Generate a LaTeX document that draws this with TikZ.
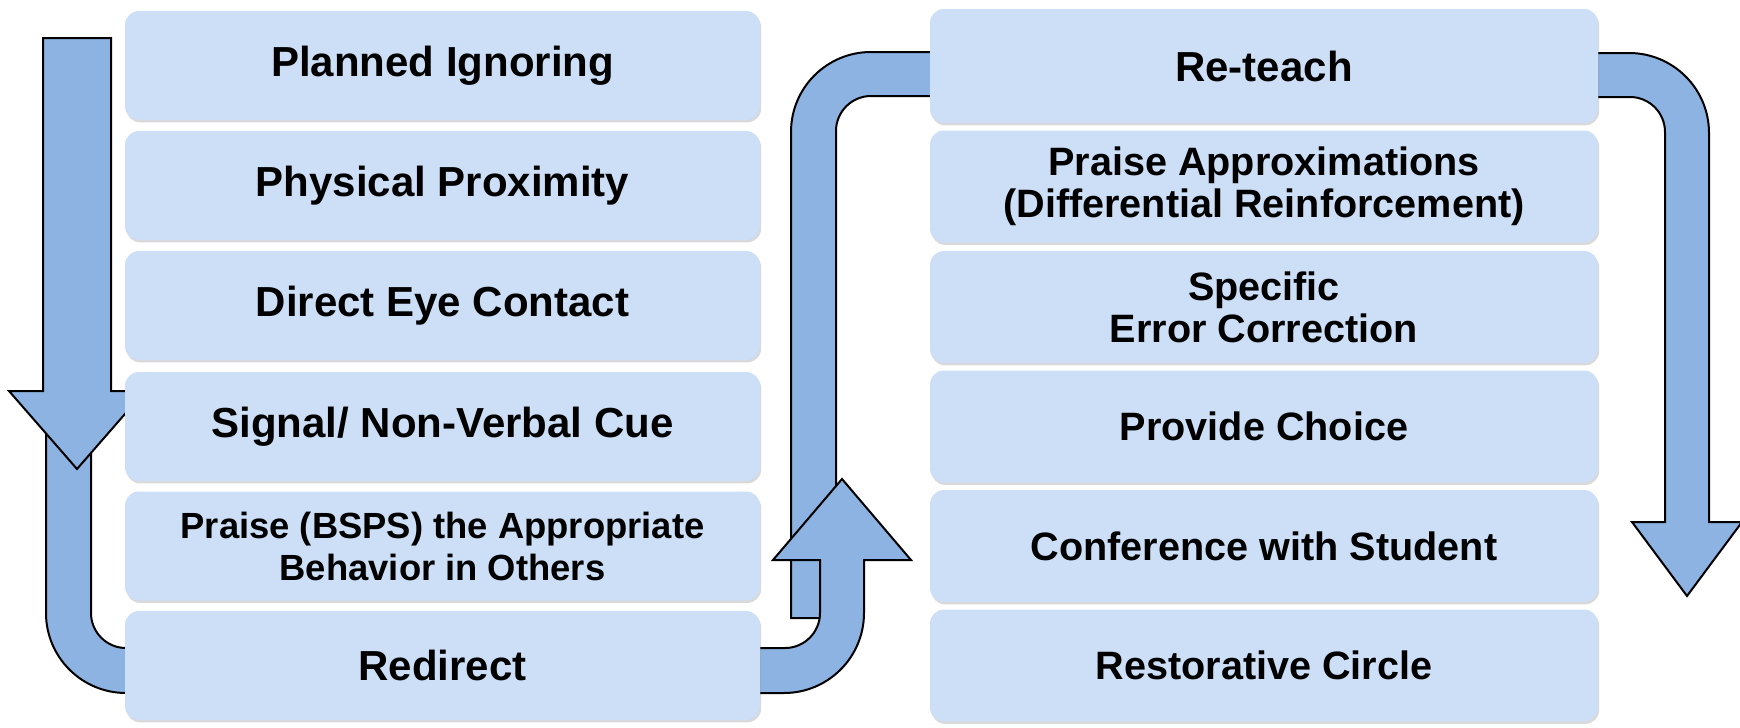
\documentclass[tikz,border=0pt]{standalone}
\usepackage{fontspec}
\setmainfont{Liberation Sans}
\usetikzlibrary{shadows}
\definecolor{boxfill}{RGB}{204,223,247}
\definecolor{arrowfill}{RGB}{141,179,226}
\begin{document}
\begin{tikzpicture}[x=0.5pt,y=-0.5pt,
  band/.style={fill=arrowfill, draw=black, line width=1pt, line join=miter},
  box/.style={fill=boxfill, rounded corners=7pt, inner sep=0pt, align=center,
    font=\bfseries\fontsize{21}{21}\selectfont,
    drop shadow={shadow xshift=0.6pt, shadow yshift=-1.2pt, opacity=0.3}},
  lbox/.style={box, minimum width=317.5pt, minimum height=54.5pt},
  rbox/.style={box, minimum width=334pt, minimum height=56pt,
    font=\bfseries\fontsize{19.8}{21}\selectfont}]
\useasboundingbox (0,0) rectangle (1740,728);

% loop band from Re-teach down to the up arrow
\draw[band] (960,52) -- (871,52) .. controls (826.8,52) and (791,87.8) .. (791,132)
  -- (791,618) -- (836,618) -- (836,131) .. controls (836,111.7) and (851.7,96) .. (871,96)
  -- (960,96) -- cycle;

% U band with up arrow
\draw[band] (91,420) -- (46,420) -- (46,613) .. controls (46,657.2) and (81.8,693) .. (126,693)
  -- (784,693) .. controls (828.2,693) and (864,657.2) .. (864,613)
  -- (864,560) -- (911,560) -- (842,479) -- (773,560) -- (820,560)
  -- (820,613) .. controls (820,632.3) and (804.3,648) .. (785,648)
  -- (126,648) .. controls (106.7,648) and (91,632.3) .. (91,613) -- cycle;

% left down arrow
\draw[band] (43,38) -- (111,38) -- (111,391) -- (145,391) -- (77,469) -- (9,391) -- (43,391) -- cycle;

% right down arrow
\draw[band] (1560,53) -- (1629,53) .. controls (1673.2,53) and (1709,88.8) .. (1709,133)
  -- (1709,522) -- (1742,522) -- (1687,596) -- (1632,522) -- (1665,522)
  -- (1665,132) .. controls (1665,112.7) and (1649.3,97) .. (1630,97) -- (1560,97) -- cycle;

% left column
\node[lbox] (l1) at (442.5,65.5) {Planned Ignoring};
\node[lbox] (l2) at (442.5,185.5) {Physical Proximity};
\node[lbox] (l3) at (442.5,305.5) {Direct Eye Contact};
\node[lbox] (l4) at (442.5,426.5) {Signal/ Non-Verbal Cue};
\node[lbox, font=\bfseries\fontsize{18.2}{21}\selectfont] (l5) at (442.5,546) {Praise (BSPS) the Appropriate\\Behavior in Others};
\node[lbox] (l6) at (442.5,665.5) {Redirect};

% right column
\node[rbox, minimum height=57pt, font=\bfseries\fontsize{21}{21}\selectfont] (r1) at (1264,66) {Re-teach};
\node[rbox] (r2) at (1264,186.5) {Praise Approximations\\(Differential Reinforcement)};
\node[rbox] (r3) at (1264,307) {Specific\\Error Correction};
\node[rbox] (r4) at (1264,426.5) {Provide Choice};
\node[rbox] (r5) at (1264,546) {Conference with Student};
\node[rbox] (r6) at (1264,665.5) {Restorative Circle};
\end{tikzpicture}
\end{document}
